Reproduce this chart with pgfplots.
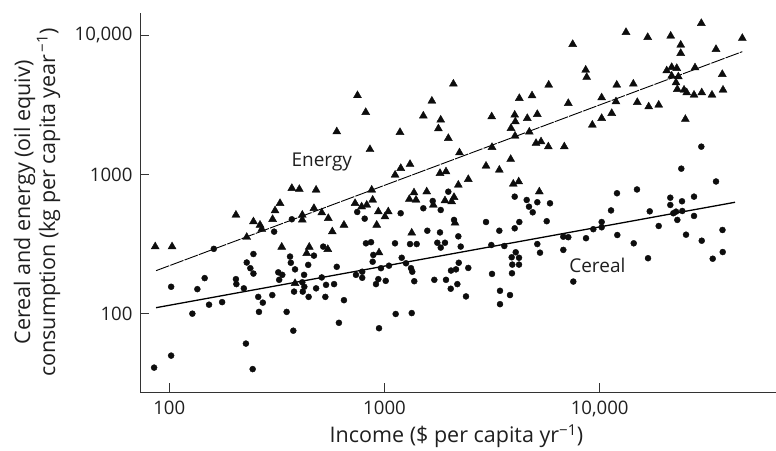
\documentclass[border=0pt]{standalone}
\usepackage{fontspec}
\setmainfont{Open Sans}
\usepackage{pgfplots}
\usepackage{pgfplotstable}
\pgfplotsset{compat=1.18}

\pgfplotstableread{
x y
86 303
103 303
204 511
229 354
246 458
264 433
269 404
302 476
310 549
327 620
333 301
371 795
402 782
415 511
415 471
435 271
447 301
470 571
481 773
511 531
545 290
548 484
572 388
600 2026
648 433
384 165
730 620
749 3685
818 2790
856 1510
1180 2005
1515 2630
1660 3365
2090 4460
1825 2460
1780 2130
1980 1816
2230 1431
1120 990
1190 1106
1314 1182
1811 1018
1931 1046
872 773
783 586
827 603
881 655
936 540
1041 540
1005 497
920 433
1371 739
1304 663
1401 655
1571 751
1686 603
1910 648
2052 637
2104 685
2203 839
2451 922
2127 448
1338 380
3149 2596
2963 1149
3416 1075
3858 1284
3159 1565
3967 853
4204 886
5240 751
4231 3518
4847 3673
5794 4383
4027 2670
4054 2389
3871 2142
4608 2527
5129 2701
4041 1887
4708 2016
5058 1673
5337 1717
5770 1581
6846 1581
7146 3239
943 274
7490 8590
13250 10470
16710 9640
21370 9850
29660 12150
45980 9490
23790 8490
23790 7400
34710 7910
8607 5617
8700 4980
12000 4383
14330 4457
10210 3553
11900 3326
11370 2746
10210 2527
9240 2263
14950 3293
16890 3062
18800 3149
20480 5552
21600 5873
22800 5777
21600 5087
23190 5028
22620 4552
22940 4083
24650 4036
25370 3860
27430 3715
29790 3860
27720 5834
33240 3715
37120 5231
37410 4036
25000 2487
}\energy

\pgfplotstableread{
x y
161 292
371 476
307 388
519 303
747 537
246 268
229 233
238 212
246 194
364 257
367 232
384 208
442 224
470 261
321 198
335 190
324 175
423 190
600 217
511 182
737 190
102 156
146 180
135 150
204 177
205 163
222 152
153 116
176 121
128 100
259 132
272 120
261 103
301 136
351 103
380 144
415 168
424 156
417 144
444 132
481 152
535 161
583 163
531 132
648 125
614 86
377 75.5
227 61
102 50
85 41
244 40
809 481
1189 526
1515 571
1675 644
1825 555
1979 751
2104 471
1581 394
1811 383
2203 359
2963 455
3416 394
4027 410
4231 455
4027 692
4579 655
4692 586
4883 534
5129 631
5875 620
5672 461
6774 357
820 320
866 326
1119 320
1314 316
1411 316
1760 323
1910 323
1825 298
2260 303
3136 311
3604 306
5129 316
5280 274
7146 354
6774 287
4071 276
3899 254
4217 252
3925 225
4217 225
3912 195
3159 193
3441 146
3830 136
3441 117
887 264
881 236
788 200
788 181
963 212
1049 221
1202 252
1259 230
1328 212
1346 200
936 177
913 163
1013 172
1375 171
1704 175
1931 175
2037 204
2149 208
2213 232
2451 213
2031 151
2180 163
2391 133
1127 99.5
1338 101
943 78.6
29660 1581
23940 1099
34710 889
14900 779
12030 732
21280 680
21280 603
24120 641
27430 692
11290 551
17080 543
21980 526
22620 540
24200 546
22940 471
27430 503
10210 455
10210 417
9339 404
18800 426
8636 348
12070 367
25180 369
37200 399
14390 320
29790 334
16770 250
33500 248
37290 277
7540 170
}\cereal

\begin{document}
\begin{tikzpicture}
\begin{axis}[
  name=ax,
  scale only axis,
  width=636pt, height=379pt,
  xmode=log, ymode=log,
  xmin=73.1, xmax=65950,
  ymin=27.4, ymax=14400,
  axis x line=bottom, axis y line=left,
  axis line style={-, draw=black!80, line width=0.9pt},
  tick style={draw=black!80, line width=0.9pt},
  tick align=inside,
  major tick length=9pt,
  xminorticks=false, yminorticks=false,
  xtick={100,1000,10000}, xticklabels={100,1000,{10,000}},
  ytick={100,1000,10000}, yticklabels={100,1000,{10,000}},
  /pgf/number format/assume math mode=true,
  tick label style={font=\fontsize{18.6}{20}\selectfont, text=black!88},
  xticklabel style={yshift=-5pt},
  yticklabel style={xshift=-4pt},
  every axis x label/.style={at={(rel axis cs:0.5,0)}, anchor=center, yshift=-44pt, xshift=-1.5pt, font=\fontsize{21.5}{24}\selectfont, text=black!88},
  every axis y label/.style={at={(rel axis cs:0,0.5)}, anchor=center, xshift=-103pt, rotate=90, align=center, font=\fontsize{21.5}{25}\selectfont, text=black!88},
  xlabel={Income (\$ per capita yr\textsuperscript{−1})},
  ylabel={Cereal and energy (oil equiv)\\consumption (kg per capita year\textsuperscript{\,−1})},
  clip=false,
]
\addplot[black, line width=0.9pt, dash pattern=on 14pt off 1.2pt] coordinates {(86.8,203.6) (45980,7600)};
\addplot[black, line width=1.3pt] coordinates {(86.8,110.4) (42540,630.6)};
\addplot[only marks, mark=triangle*, mark size=4.6pt, mark options={fill=black!95, draw=black!95}] table[x=x, y=y] {\energy};
\addplot[only marks, mark=*, mark size=3pt, mark options={fill=black!95, draw=black!95}] table[x=x, y=y] {\cereal};
\node[font=\fontsize{19}{21}\selectfont, text=black!88] at (axis cs:511,1233) {Energy};
\node[font=\fontsize{19}{21}\selectfont, text=black!88] at (axis cs:9750,221) {Cereal};
\end{axis}
\pgfresetboundingbox
\path ([xshift=-140pt,yshift=-58pt]ax.south west) rectangle ([yshift=13pt]ax.north east);
\end{tikzpicture}
\end{document}
